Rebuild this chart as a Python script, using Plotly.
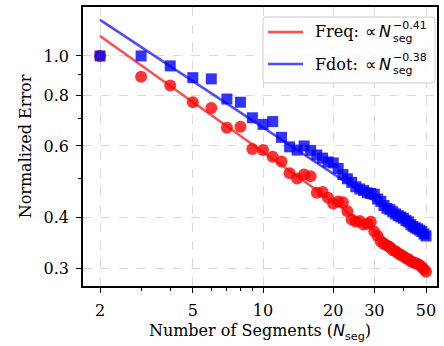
import plotly.graph_objects as go

# ---------------- data ----------------
N = list(range(2, 51))
freq_err = [1.000, 0.889, 0.845, 0.769, 0.744, 0.665, 0.669, 0.590, 0.586, 0.564,
            0.549, 0.514, 0.499, 0.510, 0.505, 0.460, 0.462, 0.447, 0.433, 0.438,
            0.436, 0.414, 0.395, 0.390, 0.392, 0.384, 0.386, 0.390, 0.369, 0.360,
            0.349, 0.344, 0.341, 0.338, 0.332, 0.330, 0.326, 0.323, 0.321, 0.317,
            0.316, 0.312, 0.310, 0.309, 0.307, 0.305, 0.302, 0.298, 0.294]
fdot_err = [1.000, 1.000, 0.945, 0.884, 0.878, 0.783, 0.769, 0.704, 0.678, 0.689,
            0.630, 0.597, 0.586, 0.600, 0.585, 0.570, 0.560, 0.548, 0.545, 0.528,
            0.510, 0.498, 0.488, 0.476, 0.470, 0.466, 0.460, 0.458, 0.456, 0.444,
            0.438, 0.428, 0.421, 0.418, 0.413, 0.408, 0.404, 0.401, 0.398, 0.393,
            0.390, 0.384, 0.380, 0.377, 0.375, 0.372, 0.369, 0.364, 0.360]
fit_N = [2, 50]
freq_fit = [1.12, 0.30]
fdot_fit = [1.227, 0.362]

x_ticks = [2, 5, 10, 20, 30, 50]
x_ticktext = ["2", "5", "10", "20", "30", "50"]
x_minor = [3, 4, 6, 7, 8, 9, 40]
y_ticks = [0.3, 0.4, 0.6, 0.8, 1.0]
y_ticktext = ["0.3", "0.4", "0.6", "0.8", "1.0"]
y_minor = [0.5, 0.7, 0.9]

legend_labels = ["Freq:", "Fdot:"]
legend_exps = ["\u22120.41", "\u22120.38"]

# ---------------- styling ----------------
W, H = 444, 346
PL, PR, PT, PB = 83, 437, 7, 286
SERIF = "DejaVu Serif"
SANS = "DejaVu Sans"
FS = 16
RED_M = "rgba(255,0,0,0.8)"
BLUE_M = "rgba(0,0,255,0.8)"
RED_L = "rgba(255,0,0,0.7)"
BLUE_L = "rgba(0,0,255,0.7)"


def px(x):
    return (x - PL) / (PR - PL)


def py(y):
    return (PB - y) / (PB - PT)


fig = go.Figure()
fig.add_trace(go.Scatter(x=N, y=freq_err, mode="markers",
                         marker=dict(symbol="circle", size=12, color=RED_M, line=dict(width=0)),
                         showlegend=False))
fig.add_trace(go.Scatter(x=fit_N, y=freq_fit, mode="lines",
                         line=dict(color=RED_L, width=2.5), showlegend=False))
fig.add_trace(go.Scatter(x=N, y=fdot_err, mode="markers",
                         marker=dict(symbol="square", size=11, color=BLUE_M, line=dict(width=0)),
                         showlegend=False))
fig.add_trace(go.Scatter(x=fit_N, y=fdot_fit, mode="lines",
                         line=dict(color=BLUE_L, width=2.5), showlegend=False))

axis_common = dict(
    type="log", tickmode="array", ticks="outside", ticklen=5, tickwidth=1.3,
    tickcolor="black", showline=True, linecolor="black", linewidth=1.5, mirror=True,
    showgrid=True, gridcolor="#d9d9d9", griddash="dash", gridwidth=1, zeroline=False,
    tickfont=dict(family=SERIF, size=FS, color="black"), automargin=False,
)

fig.update_layout(
    width=W, height=H,
    margin=dict(l=PL, r=W - PR, t=PT, b=H - PB),
    paper_bgcolor="white", plot_bgcolor="white",
    font=dict(family=SERIF, size=FS, color="black"),
    showlegend=False,
    xaxis=dict(axis_common, range=[0.228, 1.746], tickvals=x_ticks, ticktext=x_ticktext,
               ticklabelstandoff=4,
               minor=dict(tickmode="array", tickvals=x_minor, ticks="outside", ticklen=3,
                          tickwidth=1, tickcolor="black", showgrid=False),
               title=dict(text="Number of Segments (<span style='font-family:DejaVu Sans'><i>N</i><sub>seg</sub></span>)",
                          font=dict(family=SERIF, size=FS), standoff=6)),
    yaxis=dict(axis_common, range=[-0.567, 0.1206], tickvals=y_ticks, ticktext=y_ticktext,
               ticklabelstandoff=4,
               minor=dict(tickmode="array", tickvals=y_minor, ticks="outside", ticklen=3,
                          tickwidth=1, tickcolor="black", showgrid=False),
               title=dict(text="Normalized Error", font=dict(family=SERIF, size=FS), standoff=8)),
)

# ---------------- manual legend ----------------
bx0, bx1, by0, by1, r = 263, 435, 17, 83, 3
path = (f"M {px(bx0 + r)} {py(by0)} L {px(bx1 - r)} {py(by0)} "
        f"Q {px(bx1)} {py(by0)} {px(bx1)} {py(by0 + r)} L {px(bx1)} {py(by1 - r)} "
        f"Q {px(bx1)} {py(by1)} {px(bx1 - r)} {py(by1)} L {px(bx0 + r)} {py(by1)} "
        f"Q {px(bx0)} {py(by1)} {px(bx0)} {py(by1 - r)} L {px(bx0)} {py(by0 + r)} "
        f"Q {px(bx0)} {py(by0)} {px(bx0 + r)} {py(by0)} Z")
fig.add_shape(type="path", path=path, xref="paper", yref="paper", layer="above",
              fillcolor="rgba(255,255,255,0.8)", line=dict(color="#cccccc", width=1))

rows = [(32, RED_L), (64, BLUE_L)]
for (ry, col), lab, ex in zip(rows, legend_labels, legend_exps):
    fig.add_shape(type="line", xref="paper", yref="paper", layer="above",
                  x0=px(268), x1=px(303), y0=py(ry), y1=py(ry),
                  line=dict(color=col, width=2.5))
    fig.add_annotation(x=px(313), y=py(ry), xref="paper", yref="paper", xanchor="left",
                       yanchor="middle", showarrow=False, text=lab,
                       font=dict(family=SERIF, size=FS, color="black"))
    fig.add_annotation(x=px(363), y=py(ry), xref="paper", yref="paper", xanchor="left",
                       yanchor="middle", showarrow=False, text="\u221d",
                       font=dict(family=SANS, size=FS, color="black"))
    fig.add_annotation(x=px(377), y=py(ry), xref="paper", yref="paper", xanchor="left",
                       yanchor="middle", showarrow=False, text="<i>N</i>",
                       font=dict(family=SANS, size=FS, color="black"))
    fig.add_annotation(x=px(391), y=py(ry + 6), xref="paper", yref="paper", xanchor="left",
                       yanchor="middle", showarrow=False, text="seg",
                       font=dict(family=SANS, size=11, color="black"))
    fig.add_annotation(x=px(391), y=py(ry - 6), xref="paper", yref="paper", xanchor="left",
                       yanchor="middle", showarrow=False, text=ex,
                       font=dict(family=SANS, size=11, color="black"))

fig.write_html("out.html")
